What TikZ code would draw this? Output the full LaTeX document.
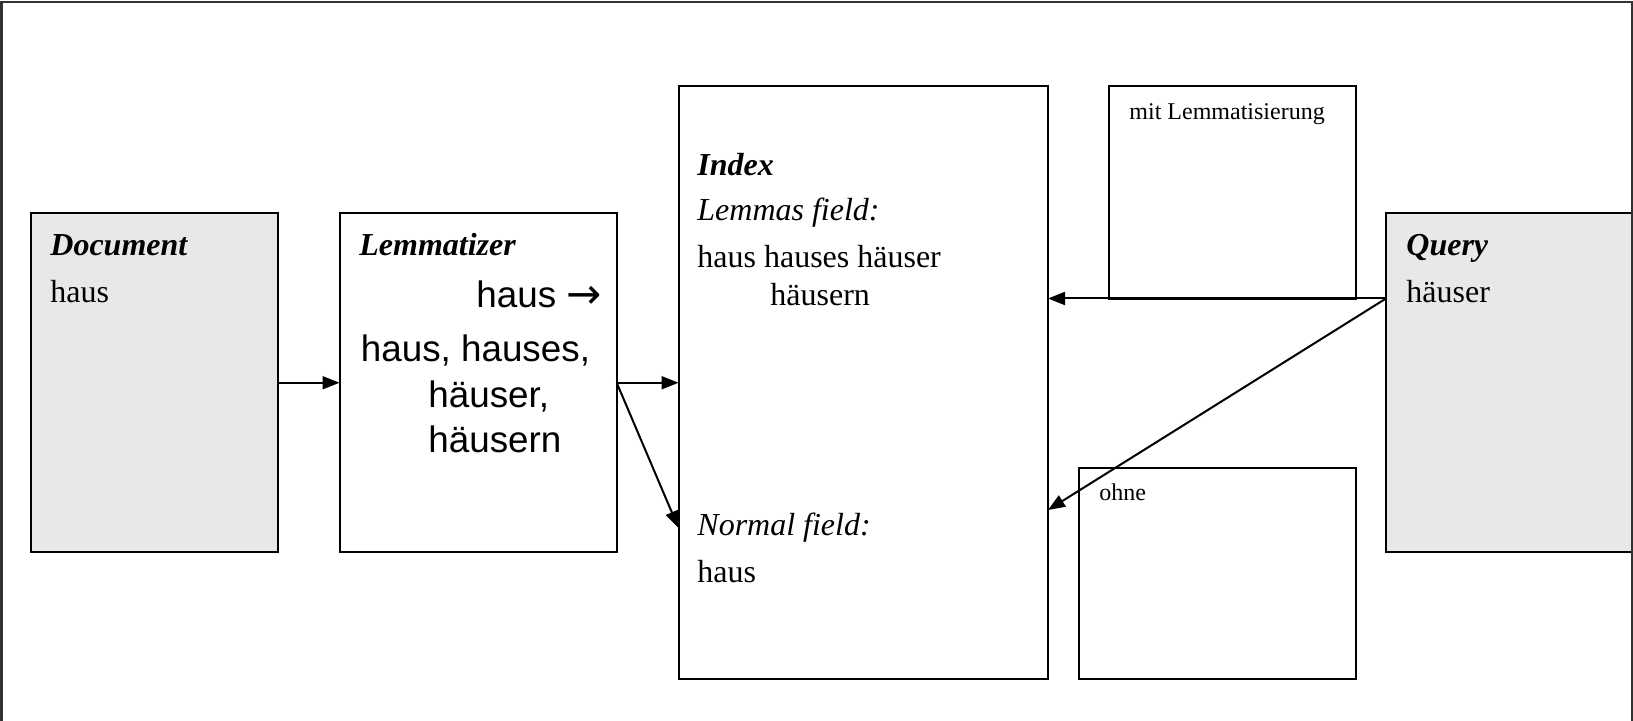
\documentclass[tikz,border=0pt]{standalone}
\usepackage{fontspec}
\setmainfont{Liberation Serif}
\newfontfamily\arialfont{Liberation Sans}
\newfontfamily\arrowfont{DejaVu Sans}
\usetikzlibrary{arrows.meta}
\tikzset{
  box/.style={draw=black, line width=1pt, anchor=north west, inner sep=0pt, outer sep=0pt},
  graybox/.style={box, fill=gray!18},
  txt/.style={anchor=base west, inner sep=0pt, font=\fontsize{16}{19}\selectfont},
  smalltxt/.style={anchor=base west, inner sep=0pt, font=\fontsize{12}{14}\selectfont},
  sanstxt/.style={anchor=base west, inner sep=0pt, font=\arialfont\fontsize{18.4}{22}\selectfont},
  conn/.style={line width=1pt, -{Triangle[length=8.5pt, width=6.5pt]}},
  frameline/.style={draw=black!80, line width=1.2pt}
}
\begin{document}
\begin{tikzpicture}[x=0.5pt, y=-0.5pt]
\useasboundingbox (0,0) rectangle (1633,721);
\clip (0,0) rectangle (1633,721);
% outer frame (top, left, right)
\coordinate (fbl) at (1.5,730);
\coordinate (ftl) at (1.5,1.8);
\coordinate (ftr) at (1632,1.8);
\coordinate (fbr) at (1632,730);
\draw[frameline] (fbl) -- (ftl) -- (ftr) -- (fbr);

% boxes (sizes in pt = half of pixel sizes)
\node[graybox, minimum width=123.5pt, minimum height=169.25pt] (doc) at (31,213.5) {};
\node[box, minimum width=138.6pt, minimum height=169.25pt] (lem) at (339.5,213.5) {};
\node[box, minimum width=184.75pt, minimum height=296.25pt] (index) at (678.5,86.5) {};
\node[box, minimum width=123.5pt, minimum height=106.25pt] (mit) at (1109,86.5) {};
\node[box, minimum width=138.5pt, minimum height=105.7pt] (ohne) at (1079,467.6) {};
\node[graybox, minimum width=140pt, minimum height=169.25pt] (query) at (1386,213.5) {};
\draw[frameline] (ftr) -- (fbr);

% texts
\node[txt] (tdoc) at (50,256) {\textbf{\textit{Document}}};
\node[txt] (tdoc2) at (50,303) {haus};
\node[txt] (tlem) at (359,256) {\textbf{\textit{Lemmatizer}}};
\node[sanstxt] (tl1) at (476,308) {haus {\arrowfont\fontsize{21}{24}\selectfont\raisebox{-0.5pt}{→}}};
\node[sanstxt] (tl2) at (360.5,362) {haus, hauses,};
\node[sanstxt] (tl3) at (428,408) {häuser,};
\node[sanstxt] (tl4) at (428,452) {häusern};
\node[txt] (tidx) at (697,176) {\textbf{\textit{Index}}};
\node[txt] (tlf) at (697,221) {\textit{Lemmas field:}};
\node[txt] (tlf1) at (697,267.5) {haus hauses häuser};
\node[txt] (tlf2) at (770,305.5) {häusern};
\node[txt] (tnf) at (697,535.5) {\textit{Normal field:}};
\node[txt] (tnf1) at (697,582.5) {haus};
\node[smalltxt] (tmit) at (1129,119.5) {mit Lemmatisierung};
\node[smalltxt] (tohne) at (1099,500.5) {ohne};
\node[txt] (tq) at (1406,256) {\textbf{\textit{Query}}};
\node[txt] (tq1) at (1406,303) {häuser};

% connector coordinates
\coordinate (qout) at (1386,298.5);
\coordinate (idxlem) at (1048,298.5);
\coordinate (idxnorm) at (1048,510);
\coordinate (idxnin) at (678.5,528);

% connectors
\draw[conn] (doc.east) -- (lem.west);
\draw[conn] (lem.east) -- (index.west);
\draw[conn] (lem.east) -- (idxnin);
\draw[conn] (qout) -- (idxlem);
\draw[conn] (qout) -- (idxnorm);
\end{tikzpicture}
\end{document}
